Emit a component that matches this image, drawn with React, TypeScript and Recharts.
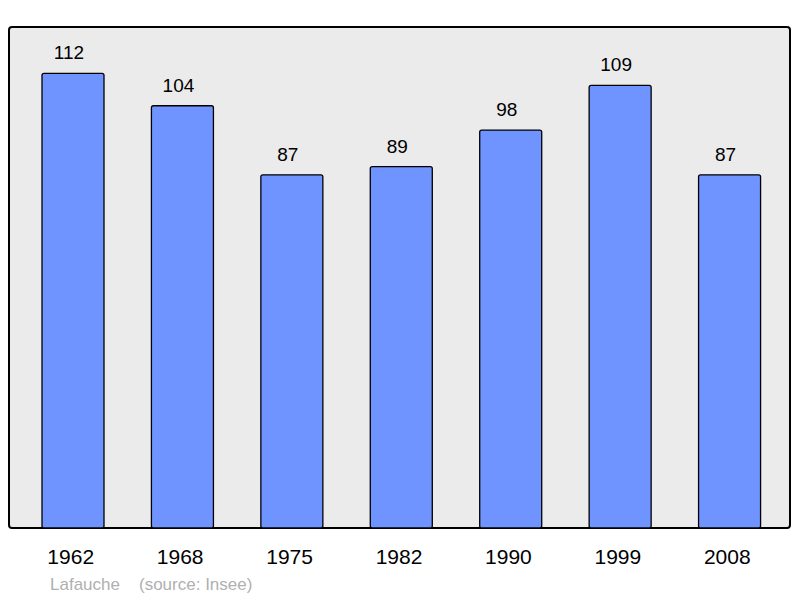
import React from "react";
import { BarChart, Bar, XAxis, YAxis, LabelList } from "recharts";

const years = ["1962", "1968", "1975", "1982", "1990", "1999", "2008"];
const population = [112, 104, 87, 89, 98, 109, 87];
const yMax = 123.4;

const data = years.map((year, i) => ({ year, population: population[i] }));

const FONT = '"Liberation Sans", Arial, sans-serif';

const YearTick = (props: any) => {
  const { x, y, payload } = props;
  return (
    <text
      x={x - 2}
      y={y + 28}
      textAnchor="middle"
      fontFamily={FONT}
      fontSize={21}
      fill="#000"
    >
      {payload.value}
    </text>
  );
};

const ValueLabel = (props: any) => {
  const { x, y, width, value } = props;
  return (
    <text
      x={x + width / 2 - 4}
      y={y - 14}
      textAnchor="middle"
      fontFamily={FONT}
      fontSize={19}
      fill="#000"
    >
      {value}
    </text>
  );
};

export default function App() {
  return (
    <div
      style={{
        position: "absolute",
        left: 0,
        top: 0,
        width: 800,
        height: 598,
        background: "#fff",
      }}
    >
      <div
        style={{
          position: "absolute",
          left: 8,
          top: 26,
          width: 783,
          height: 503,
          boxSizing: "border-box",
          border: "2px solid #000",
          borderRadius: 4,
          background: "#ebebeb",
        }}
      />
      <div style={{ position: "absolute", left: 0, top: 0 }}>
        <BarChart
          width={800}
          height={598}
          data={data}
          margin={{ top: 27, left: 9, right: 10, bottom: 30 }}
        >
          <XAxis
            dataKey="year"
            height={40}
            tickLine={false}
            axisLine={false}
            padding={{ left: 9, right: 6 }}
            tick={<YearTick />}
            interval={0}
          />
          <YAxis hide domain={[0, yMax]} />
          <Bar
            dataKey="population"
            fill="#7094ff"
            stroke="#000"
            strokeWidth={1.3}
            barSize={62}
            radius={2}
            isAnimationActive={false}
          >
            <LabelList dataKey="population" content={<ValueLabel />} />
          </Bar>
        </BarChart>
      </div>
      <div
        style={{
          position: "absolute",
          left: 50,
          top: 575,
          fontFamily: FONT,
          fontSize: 17,
          color: "#b0b0b0",
          whiteSpace: "pre",
        }}
      >
        Lafauche
      </div>
      <div
        style={{
          position: "absolute",
          left: 139,
          top: 575,
          fontFamily: FONT,
          fontSize: 17,
          color: "#b0b0b0",
          whiteSpace: "pre",
        }}
      >
        (source: Insee)
      </div>
    </div>
  );
}
